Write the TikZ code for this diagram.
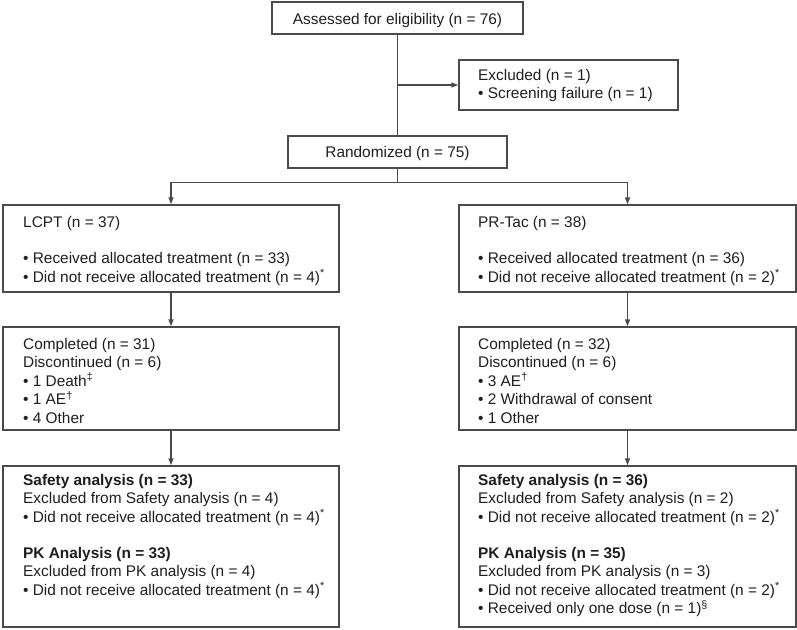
\documentclass[tikz,border=0pt]{standalone}
\usepackage{fontspec}
\setmainfont{Liberation Sans}
\usetikzlibrary{arrows.meta,fit,calc}
\definecolor{linec}{HTML}{4A4A4A}
\definecolor{txtc}{HTML}{1E1E1E}
\begin{document}
\begin{tikzpicture}[x=1pt,y=-1pt,
  box/.style={draw=linec,line width=1.4pt,inner sep=0pt,rectangle},
  txt/.style={inner sep=0pt,text=txtc,font=\fontsize{15.4}{18.5}\selectfont},
  lt/.style={txt,anchor=base west},
  ct/.style={txt,anchor=base},
  conn/.style={draw=linec,line width=1.4pt},
  arr/.style={conn,-{Triangle[length=7pt,width=5pt]}}]
\useasboundingbox (0,0) rectangle (797,629);
% boxes
\node[box,fit={(272,2)(523,34)}] (elig) {};
\node[box,fit={(459,60)(678,110)}] (excl) {};
\node[box,fit={(288,136)(507,168)}] (rand) {};
\node[box,fit={(3,205)(339,292)}] (lcpt) {};
\node[box,fit={(459,205)(796,292)}] (prtac) {};
\node[box,fit={(3,327)(339,430)}] (compL) {};
\node[box,fit={(459,327)(796,430)}] (compR) {};
\node[box,fit={(3,466)(339,627)}] (safL) {};
\node[box,fit={(459,466)(796,627)}] (safR) {};
% texts
\node[ct] (teelig) at (397.5,24) {Assessed for eligibility (n = 76)};
\node[lt] (tex1) at (478,80) {Excluded (n = 1)};
\node[lt] (tex2) at (478,98.5) {• Screening failure (n = 1)};
\node[ct] (trand) at (397.5,157) {Randomized (n = 75)};
% left arm
\node[lt] (tl1) at (23,227) {LCPT (n = 37)};
\node[lt] (tl2) at (23,263.5) {• Received allocated treatment (n = 33)};
\node[lt] (tl3) at (23,282) {• Did not receive allocated treatment (n = 4)\textsuperscript{*}};
\node[lt] (tl4) at (23,349) {Completed (n = 31)};
\node[lt] (tl5) at (23,367.5) {Discontinued (n = 6)};
\node[lt] (tl6) at (23,386) {• 1 Death\textsuperscript{‡}};
\node[lt] (tl7) at (23,404.5) {• 1 AE\textsuperscript{†}};
\node[lt] (tl8) at (23,423) {• 4 Other};
\node[lt] (tl9) at (23,485) {\bfseries Safety analysis (n = 33)};
\node[lt] (tl10) at (23,503.5) {Excluded from Safety analysis (n = 4)};
\node[lt] (tl11) at (23,522) {• Did not receive allocated treatment (n = 4)\textsuperscript{*}};
\node[lt] (tl12) at (23,558) {\bfseries PK Analysis (n = 33)};
\node[lt] (tl13) at (23,576.5) {Excluded from PK analysis (n = 4)};
\node[lt] (tl14) at (23,595) {• Did not receive allocated treatment (n = 4)\textsuperscript{*}};
% right arm
\node[lt] (tr1) at (478,227) {PR-Tac (n = 38)};
\node[lt] (tr2) at (478,263.5) {• Received allocated treatment (n = 36)};
\node[lt] (tr3) at (478,282) {• Did not receive allocated treatment (n = 2)\textsuperscript{*}};
\node[lt] (tr4) at (478,349) {Completed (n = 32)};
\node[lt] (tr5) at (478,367.5) {Discontinued (n = 6)};
\node[lt] (tr6) at (478,386) {• 3 AE\textsuperscript{†}};
\node[lt] (tr7) at (478,404.5) {• 2 Withdrawal of consent};
\node[lt] (tr8) at (478,423) {• 1 Other};
\node[lt] (tr9) at (478,485) {\bfseries Safety analysis (n = 36)};
\node[lt] (tr10) at (478,503.5) {Excluded from Safety analysis (n = 2)};
\node[lt] (tr11) at (478,522) {• Did not receive allocated treatment (n = 2)\textsuperscript{*}};
\node[lt] (tr12) at (478,558) {\bfseries PK Analysis (n = 35)};
\node[lt] (tr13) at (478,576.5) {Excluded from PK analysis (n = 3)};
\node[lt] (tr14) at (478,595) {• Did not receive allocated treatment (n = 2)\textsuperscript{*}};
\node[lt] (tr15) at (478,613.5) {• Received only one dose (n = 1)\textsuperscript{§}};
% connectors
\draw[conn] (elig.south) -- (rand.north);
\draw[arr] (elig.south |- excl.west) -- (excl.west);
\coordinate (split) at ($(rand.south)+(0,14)$);
\draw[conn] (rand.south) -- (split);
\draw[arr] (split) -| (lcpt.north);
\draw[arr] (split) -| (prtac.north);
\draw[arr] (lcpt.south) -- (compL.north);
\draw[arr] (prtac.south) -- (compR.north);
\draw[arr] (compL.south) -- (safL.north);
\draw[arr] (compR.south) -- (safR.north);
\end{tikzpicture}
\end{document}
